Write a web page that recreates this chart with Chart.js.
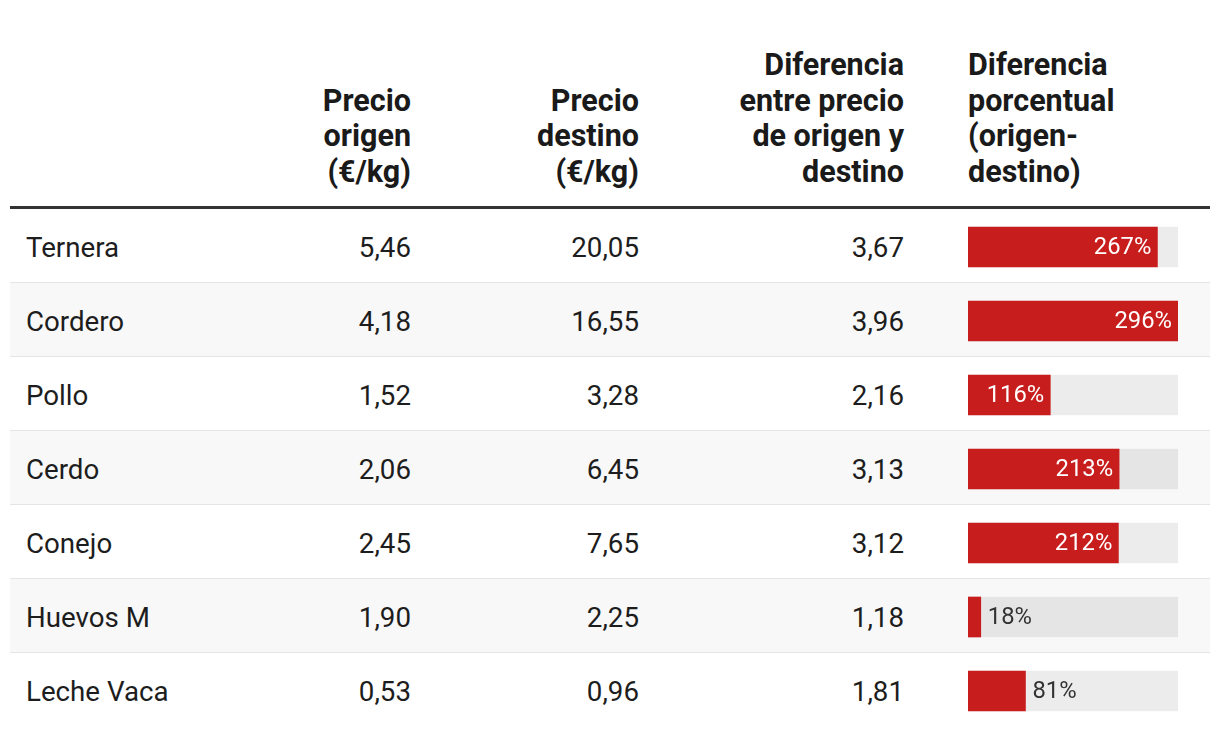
<!DOCTYPE html>
<html><head><meta charset="utf-8">
<script src="https://cdn.jsdelivr.net/npm/chart.js@4.4.1/dist/chart.umd.min.js"></script>
<style>
html,body{margin:0;padding:0;background:#fff;}
body{width:1220px;height:736px;position:relative;overflow:hidden;font-family:Roboto,"Noto Sans",sans-serif;color:#1d1d1d;}
#tbl{position:absolute;left:10px;top:0;width:1200px;}
.hdr{position:absolute;left:0;top:0;width:1200px;height:206px;border-bottom:3px solid #333;}
.hc{position:absolute;bottom:17px;font-weight:700;font-size:30.5px;line-height:35.5px;color:#1a1a1a;}
.row{position:absolute;left:0;width:1200px;height:73px;border-bottom:1px solid #e5e5e5;}
.row.last{border-bottom:none;}
.row.alt{background:#f8f8f8;}
.cell{position:absolute;top:2px;height:73px;line-height:73px;font-size:27.7px;}
.r{text-align:right;}
#wrap{position:absolute;left:968px;top:210px;width:210px;height:518px;}
</style></head><body>
<div id="tbl"></div>
<div id="wrap"><canvas id="c" width="210" height="518"></canvas></div>
<script>
const categories = ["Ternera","Cordero","Pollo","Cerdo","Conejo","Huevos M","Leche Vaca"];
const precioOrigen = ["5,46","4,18","1,52","2,06","2,45","1,90","0,53"];
const precioDestino = ["20,05","16,55","3,28","6,45","7,65","2,25","0,96"];
const diferencia = ["3,67","3,96","2,16","3,13","3,12","1,18","1,81"];
const porcentaje = [267,296,116,213,212,18,81];
const headers = ["Precio<br>origen<br>(€/kg)","Precio<br>destino<br>(€/kg)","Diferencia<br>entre precio<br>de origen y<br>destino","Diferencia<br>porcentual<br>(origen-<br>destino)"];

const tbl = document.getElementById('tbl');
let h = '<div class="hdr">';
h += '<div class="hc" style="right:'+(1200-401)+'px;text-align:right">'+headers[0]+'</div>';
h += '<div class="hc" style="right:'+(1200-629)+'px;text-align:right">'+headers[1]+'</div>';
h += '<div class="hc" style="right:'+(1200-894)+'px;text-align:right">'+headers[2]+'</div>';
h += '<div class="hc" style="left:958px;text-align:left">'+headers[3]+'</div>';
h += '</div>';
categories.forEach((c,i)=>{
  h += '<div class="row'+(i%2==1?' alt':'')+(i==categories.length-1?' last':'')+'" style="top:'+(209+i*74)+'px">';
  h += '<div class="cell" style="left:16px">'+c+'</div>';
  h += '<div class="cell r" style="right:'+(1200-401)+'px">'+precioOrigen[i]+'</div>';
  h += '<div class="cell r" style="right:'+(1200-629)+'px">'+precioDestino[i]+'</div>';
  h += '<div class="cell r" style="right:'+(1200-894)+'px">'+diferencia[i]+'</div>';
  h += '</div>';
});
tbl.innerHTML = h;

const maxV = Math.max(...porcentaje);
const labelPlugin = {
  id:'lbl',
  afterDatasetsDraw(chart){
    const ctx = chart.ctx;
    const meta = chart.getDatasetMeta(0);
    const xs = chart.scales.x;
    ctx.save();
    ctx.font = '23.8px Roboto, "Noto Sans", sans-serif';
    ctx.textBaseline = 'middle';
    meta.data.forEach((bar,i)=>{
      const t = porcentaje[i]+'%';
      const w = ctx.measureText(t).width;
      const x0 = xs.getPixelForValue(0);
      const x1 = xs.getPixelForValue(porcentaje[i]);
      if (x1 - x0 > w + 18) {
        ctx.fillStyle = '#ffffff'; ctx.textAlign = 'right';
        ctx.fillText(t, x1 - 6, bar.y + 1);
      } else {
        ctx.fillStyle = '#333333'; ctx.textAlign = 'left';
        ctx.fillText(t, x1 + 7, bar.y + 1);
      }
    });
    ctx.restore();
  }
};

new Chart(document.getElementById('c'), {
  type:'bar',
  data:{
    labels: categories,
    datasets:[
      {data: porcentaje, backgroundColor:'#c81d1d', barThickness:40, grouped:false, order:1, borderWidth:0},
      {data: categories.map(()=>maxV), backgroundColor:'rgba(0,0,0,0.075)', barThickness:40, grouped:false, order:2, borderWidth:0}
    ]
  },
  options:{
    indexAxis:'y', responsive:false, animation:false, devicePixelRatio:1,
    layout:{padding:0},
    plugins:{legend:{display:false}, tooltip:{enabled:false}},
    scales:{
      x:{display:false, min:0, max:maxV},
      y:{display:false}
    }
  },
  plugins:[labelPlugin]
});
</script>
</body></html>
